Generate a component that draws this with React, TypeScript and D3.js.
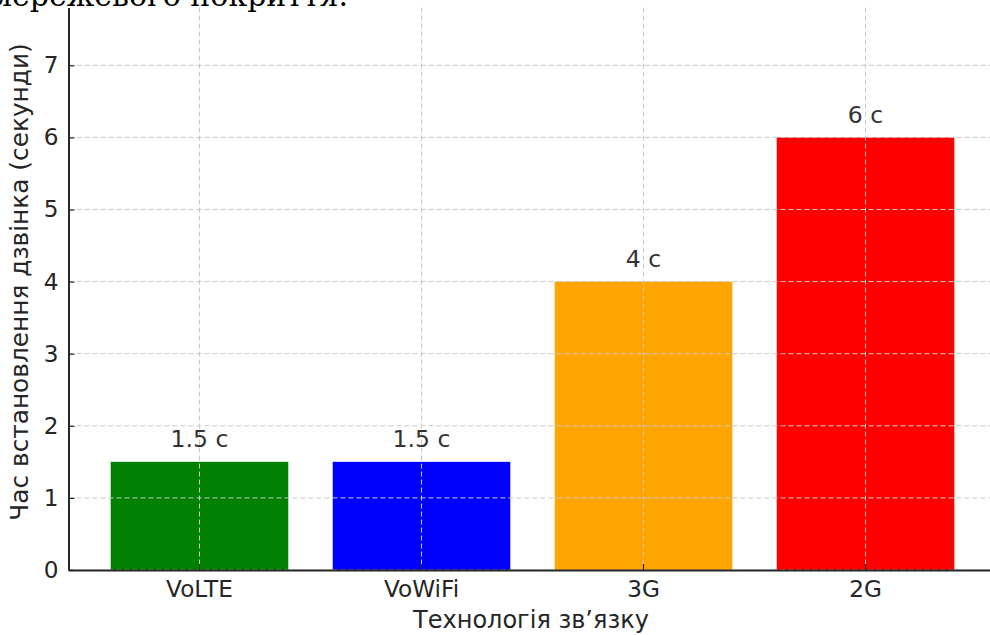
import React, { useEffect, useRef } from 'react'
import * as d3 from 'd3'

// chart values
const technologies = ['VoLTE', 'VoWiFi', '3G', '2G']
const setupTimes = [1.5, 1.5, 4, 6]
const barColors = ['green', 'blue', 'orange', 'red']
const yTicks = [0, 1, 2, 3, 4, 5, 6, 7]
const titleTail = 'мережевого покриття.'
const xTitle = 'Технологія зв’язку'
const yTitle = 'Час встановлення дзвінка (секунди)'

const W = 990
const H = 635
const margin = { top: 7.6, right: -6.5, bottom: 65, left: 68.5 }

export default function App() {
	const ref = useRef<SVGSVGElement>(null)

	useEffect(() => {
		const svg = d3.select(ref.current)
		svg.selectAll('*').remove()

		const x = d3.scaleBand<string>()
			.domain(technologies)
			.range([margin.left, W - margin.right])
			.paddingInner(0.2)
			.paddingOuter(0.19)

		const y = d3.scaleLinear()
			.domain([0, 7.8])
			.range([H - margin.bottom, margin.top])

		const data = technologies.map((t, i) => ({ t, v: setupTimes[i], c: barColors[i] }))

		// title (cut off at the top in the original)
		svg.append('text')
			.attr('x', 348)
			.attr('y', 6)
			.attr('text-anchor', 'end')
			.attr('font-family', 'DejaVu Serif')
			.attr('font-size', 30)
			.attr('fill', '#000')
			.text(titleTail)

		// bars
		svg.append('g')
			.selectAll('rect')
			.data(data)
			.enter()
			.append('rect')
			.attr('x', d => x(d.t)!)
			.attr('y', d => y(d.v))
			.attr('width', x.bandwidth())
			.attr('height', d => y(0) - y(d.v))
			.attr('fill', d => d.c)

		// grid on top of the bars
		const grid = svg.append('g')
			.attr('stroke', '#c8c8c8')
			.attr('stroke-width', 1)
			.attr('stroke-dasharray', '5,3')
		grid.selectAll('line.h')
			.data(yTicks)
			.enter()
			.append('line')
			.attr('class', 'h')
			.attr('x1', margin.left)
			.attr('x2', W)
			.attr('y1', d => y(d))
			.attr('y2', d => y(d))
		grid.selectAll('line.v')
			.data(technologies)
			.enter()
			.append('line')
			.attr('class', 'v')
			.attr('x1', d => x(d)! + x.bandwidth() / 2)
			.attr('x2', d => x(d)! + x.bandwidth() / 2)
			.attr('y1', y(7.8))
			.attr('y2', y(0))

		// axes
		const yAxis = svg.append('g')
			.attr('transform', `translate(${margin.left},0)`)
			.call(d3.axisLeft(y).tickValues(yTicks).tickFormat(d3.format('d')).tickSizeInner(-6).tickSizeOuter(0).tickPadding(10))
		const xAxis = svg.append('g')
			.attr('transform', `translate(0,${y(0)})`)
			.call(d3.axisBottom(x).tickSizeInner(-6).tickSizeOuter(0).tickPadding(11))

		for (const ax of [xAxis, yAxis]) {
			ax.selectAll('.domain').attr('stroke', '#262626').attr('stroke-width', 2)
			ax.selectAll('.tick line').attr('stroke', '#262626').attr('stroke-width', 1.2)
			ax.selectAll('.tick text')
				.attr('fill', '#262626')
				.attr('font-family', 'DejaVu Sans')
				.attr('font-size', 23.2)
		}

		// value labels
		svg.append('g')
			.selectAll('text')
			.data(data)
			.enter()
			.append('text')
			.attr('x', d => x(d.t)! + x.bandwidth() / 2)
			.attr('y', d => y(d.v + 0.2))
			.attr('text-anchor', 'middle')
			.attr('font-family', 'DejaVu Sans')
			.attr('font-size', 23.5)
			.attr('fill', '#333')
			.text(d => `${d.v} с`)

		// axis titles
		svg.append('text')
			.attr('x', 531)
			.attr('y', 628)
			.attr('text-anchor', 'middle')
			.attr('font-family', 'DejaVu Sans')
			.attr('font-size', 24)
			.attr('fill', '#262626')
			.text(xTitle)

		svg.append('text')
			.attr('transform', 'translate(28,282) rotate(-90)')
			.attr('text-anchor', 'middle')
			.attr('font-family', 'DejaVu Sans')
			.attr('font-size', 24.8)
			.attr('fill', '#262626')
			.text(yTitle)
	}, [])

	return (
		<svg
			ref={ref}
			width={W}
			height={H}
			style={{ position: 'absolute', left: 0, top: 0, background: '#fff' }}
		/>
	)
}
